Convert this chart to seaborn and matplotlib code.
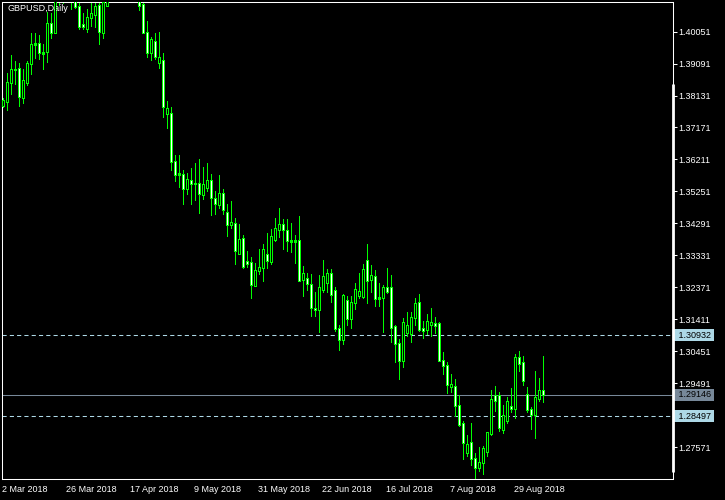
import numpy as np
import pandas as pd
import matplotlib
matplotlib.use("Agg")
import matplotlib.pyplot as plt
import seaborn as sns

# ---- data (GBPUSD daily, Mar - Sep 2018) ----
chart_title = "GBPUSD,Daily"
dates = pd.bdate_range("2018-03-02", periods=136)

opens = [1.3782, 1.3795, 1.3850, 1.3891, 1.3892, 1.3807, 1.3852, 1.3907, 1.3965, 1.3968,
         1.3941, 1.3945, 1.4028, 1.4000, 1.4140, 1.4120, 1.4140, 1.4230, 1.4170, 1.4078,
         1.4025, 1.4012, 1.4045, 1.4055, 1.4082, 1.4000, 1.4082, 1.4120, 1.4170, 1.4180,
         1.4240, 1.4240, 1.4330, 1.4300, 1.4190, 1.4085, 1.4000, 1.3940, 1.3973, 1.3912,
         1.3917, 1.3757, 1.3758, 1.3612, 1.3576, 1.3575, 1.3532, 1.3555, 1.3548, 1.3547,
         1.3515, 1.3535, 1.3557, 1.3502, 1.3483, 1.3517, 1.3460, 1.3423, 1.3428, 1.3338,
         1.3382, 1.3312, 1.3310, 1.3242, 1.3285, 1.3295, 1.3334, 1.3312, 1.3380, 1.3410,
         1.3425, 1.3407, 1.3376, 1.3376, 1.3377, 1.3258, 1.3262, 1.3244, 1.3172, 1.3169,
         1.3228, 1.3250, 1.3277, 1.3226, 1.3112, 1.3080, 1.3195, 1.3142, 1.3190, 1.3210,
         1.3208, 1.3317, 1.3258, 1.3268, 1.3205, 1.3205, 1.3235, 1.3235, 1.3117, 1.3068,
         1.3015, 1.3100, 1.3097, 1.3145, 1.3190, 1.3112, 1.3110, 1.3123, 1.3127, 1.3127,
         1.3015, 1.3002, 1.2937, 1.2938, 1.2880, 1.2828, 1.2740, 1.2768, 1.2722, 1.2693,
         1.2708, 1.2742, 1.2795, 1.2912, 1.2912, 1.2808, 1.2835, 1.2878, 1.2872, 1.3025,
         1.3010, 1.2915, 1.2870, 1.2853, 1.2902, 1.2925]
highs = [1.3803, 1.3880, 1.3932, 1.3915, 1.3910, 1.3890, 1.3915, 1.3998, 1.3998, 1.3992,
         1.3967, 1.4062, 1.4060, 1.4160, 1.4150, 1.4200, 1.4245, 1.4240, 1.4190, 1.4090,
         1.4060, 1.4070, 1.4090, 1.4092, 1.4110, 1.4105, 1.4135, 1.4185, 1.4215, 1.4260,
         1.4300, 1.4345, 1.4377, 1.4310, 1.4210, 1.4092, 1.4035, 1.3988, 1.4000, 1.4002,
         1.3938, 1.3795, 1.3778, 1.3632, 1.3632, 1.3588, 1.3578, 1.3595, 1.3608, 1.3620,
         1.3598, 1.3610, 1.3575, 1.3525, 1.3572, 1.3530, 1.3485, 1.3495, 1.3445, 1.3425,
         1.3392, 1.3345, 1.3327, 1.3308, 1.3350, 1.3365, 1.3400, 1.3410, 1.3445, 1.3475,
         1.3440, 1.3442, 1.3428, 1.3392, 1.3450, 1.3299, 1.3280, 1.3275, 1.3220, 1.3272,
         1.3317, 1.3292, 1.3292, 1.3235, 1.3122, 1.3215, 1.3210, 1.3210, 1.3250, 1.3278,
         1.3305, 1.3365, 1.3302, 1.3287, 1.3248, 1.3242, 1.3295, 1.3272, 1.3122, 1.3080,
         1.3142, 1.3160, 1.3160, 1.3203, 1.3215, 1.3135, 1.3155, 1.3172, 1.3145, 1.3130,
         1.3042, 1.3010, 1.2975, 1.2960, 1.2912, 1.2835, 1.2792, 1.2828, 1.2738, 1.2755,
         1.2758, 1.2802, 1.2928, 1.2940, 1.2922, 1.2882, 1.2905, 1.2933, 1.3035, 1.3043,
         1.3028, 1.2935, 1.2875, 1.2985, 1.2963, 1.3028]
lows = [1.3777, 1.3768, 1.3815, 1.3845, 1.3780, 1.3790, 1.3842, 1.3875, 1.3925, 1.3922,
        1.3892, 1.3912, 1.3985, 1.3998, 1.4083, 1.4088, 1.4120, 1.4070, 1.4075, 1.4012,
        1.4012, 1.4002, 1.4020, 1.4018, 1.3967, 1.3983, 1.4080, 1.4110, 1.4145, 1.4165,
        1.4220, 1.4230, 1.4270, 1.4150, 1.4068, 1.4000, 1.3928, 1.3918, 1.3922, 1.3895,
        1.3748, 1.3715, 1.3588, 1.3555, 1.3538, 1.3487, 1.3517, 1.3485, 1.3498, 1.3460,
        1.3502, 1.3525, 1.3453, 1.3455, 1.3473, 1.3455, 1.3390, 1.3413, 1.3305, 1.3335,
        1.3294, 1.3298, 1.3203, 1.3240, 1.3275, 1.3255, 1.3295, 1.3305, 1.3375, 1.3388,
        1.3352, 1.3345, 1.3342, 1.3310, 1.3255, 1.3210, 1.3227, 1.3150, 1.3148, 1.3102,
        1.3220, 1.3222, 1.3192, 1.3105, 1.3048, 1.3065, 1.3122, 1.3113, 1.3170, 1.3203,
        1.3203, 1.3188, 1.3222, 1.3180, 1.3180, 1.3102, 1.3218, 1.3070, 1.3010, 1.2960,
        1.2995, 1.3090, 1.3072, 1.3122, 1.3105, 1.3082, 1.3095, 1.3090, 1.3098, 1.3013,
        1.2975, 1.2918, 1.2922, 1.2850, 1.2818, 1.2720, 1.2730, 1.2702, 1.2663, 1.2685,
        1.2675, 1.2728, 1.2792, 1.2865, 1.2805, 1.2798, 1.2828, 1.2860, 1.2843, 1.2985,
        1.2942, 1.2860, 1.2810, 1.2783, 1.2895, 1.2892]
closes = [1.3797, 1.3850, 1.3890, 1.3889, 1.3810, 1.3857, 1.3907, 1.3965, 1.3967, 1.3940,
          1.3939, 1.4028, 1.4002, 1.4145, 1.4120, 1.4140, 1.4230, 1.4170, 1.4078, 1.4020,
          1.4018, 1.4045, 1.4058, 1.4078, 1.4005, 1.4090, 1.4120, 1.4170, 1.4180, 1.4240,
          1.4235, 1.4330, 1.4300, 1.4190, 1.4082, 1.4002, 1.3940, 1.3980, 1.3930, 1.3925,
          1.3780, 1.3772, 1.3612, 1.3575, 1.3574, 1.3532, 1.3558, 1.3547, 1.3546, 1.3517,
          1.3545, 1.3557, 1.3505, 1.3487, 1.3517, 1.3468, 1.3423, 1.3430, 1.3345, 1.3380,
          1.3297, 1.3308, 1.3243, 1.3287, 1.3295, 1.3350, 1.3315, 1.3388, 1.3412, 1.3425,
          1.3408, 1.3375, 1.3374, 1.3374, 1.3257, 1.3277, 1.3247, 1.3174, 1.3168, 1.3235,
          1.3268, 1.3277, 1.3213, 1.3112, 1.3078, 1.3212, 1.3142, 1.3190, 1.3230, 1.3223,
          1.3290, 1.3255, 1.3272, 1.3202, 1.3203, 1.3235, 1.3223, 1.3115, 1.3067, 1.3015,
          1.3130, 1.3122, 1.3145, 1.3187, 1.3108, 1.3107, 1.3132, 1.3130, 1.3120, 1.3015,
          1.3002, 1.2943, 1.2945, 1.2880, 1.2822, 1.2770, 1.2762, 1.2720, 1.2693, 1.2710,
          1.2752, 1.2798, 1.2900, 1.2895, 1.2813, 1.2850, 1.2893, 1.2872, 1.3025, 1.3007,
          1.2955, 1.2870, 1.2853, 1.2905, 1.2927, 1.29146]

x_tick_labels = ["2 Mar 2018", "26 Mar 2018", "17 Apr 2018", "9 May 2018", "31 May 2018",
                 "22 Jun 2018", "16 Jul 2018", "7 Aug 2018", "29 Aug 2018"]
y_ticks = [1.40051, 1.39091, 1.38131, 1.37171, 1.36211, 1.35251, 1.34291,
           1.33331, 1.32371, 1.31411, 1.30451, 1.29491, 1.27571]
dashed_levels = [1.30932, 1.28497]
last_price = 1.29146

df = pd.DataFrame({"date": dates, "open": opens, "high": highs,
                   "low": lows, "close": closes})
df["bar"] = np.arange(len(df))
df["up"] = df["close"] >= df["open"]
df["label"] = [f"{d.day} {d:%b %Y}" for d in df["date"]]

# ---- styling ----
sns.set_theme(style="dark", rc={"axes.facecolor": "black", "figure.facecolor": "black",
                                "axes.edgecolor": "white", "text.color": "white",
                                "xtick.color": "white", "ytick.color": "white"})
plt.rcParams["font.family"] = ["Liberation Sans", "DejaVu Sans"]

LIME = "#00ff00"
Y_LO, Y_HI = 1.26613, 1.40940
fig = plt.figure(figsize=(7.25, 5), dpi=100)
ax = fig.add_axes([2 / 725, 21 / 500, 670.5 / 725, 477 / 500])
ax.set_xlim(-0.375, -0.375 + 670.5 / 4)   # 4 px per bar
ax.set_ylim(Y_LO, Y_HI)
px = (Y_HI - Y_LO) / 477                  # price per pixel

# candles as crisp filled rectangles: 1px wick, 3px green body, 1px inner fill
body_lo = df[["open", "close"]].min(axis=1)
body_hi = df[["open", "close"]].max(axis=1)
crisp = dict(linewidth=0, antialiased=False)
wicks = ax.bar(df["bar"], df["high"] - df["low"], bottom=df["low"], width=0.25,
               color=LIME, zorder=2, **crisp)
bodies = ax.bar(df["bar"], body_hi - body_lo + px, bottom=body_lo - px / 2, width=0.75,
                color=LIME, zorder=3, **crisp)
inner_h = (body_hi - body_lo - px).clip(lower=0)
fills = ax.bar(df["bar"], inner_h, bottom=body_lo + px / 2, width=0.25,
               color=np.where(df["up"], "black", "white"), zorder=4, **crisp)
for container in (wicks, bodies, fills):
    for rect in container:
        rect.set_snap(False)

# level lines with their price tags
for lvl in dashed_levels:
    ax.axhline(lvl, color="#add8e6", lw=0.75, ls=(0, (4, 3)), zorder=1)
    ax.text(1.0045, lvl, f" {lvl:.5f} ", transform=ax.get_yaxis_transform(),
            ha="left", va="center", fontsize=6.5, color="black", clip_on=False,
            bbox=dict(boxstyle="square,pad=0.15", fc="#add8e6", ec="none"))
ax.axhline(last_price, color="#778899", lw=0.75, zorder=1)
ax.text(1.0045, last_price, f" {last_price:.5f} ", transform=ax.get_yaxis_transform(),
        ha="left", va="center", fontsize=6.5, color="black", clip_on=False,
        bbox=dict(boxstyle="square,pad=0.15", fc="#778899", ec="none"))

# ticks
ax.yaxis.tick_right()
ax.set_yticks(y_ticks)
ax.set_yticklabels([f"{v:.5f}" for v in y_ticks])
tick_pos = [df.loc[df["label"] == lab, "bar"].iloc[0] - 0.375 for lab in x_tick_labels]
ax.set_xticks(tick_pos)
ax.set_xticklabels(x_tick_labels, ha="left")
ax.tick_params(axis="both", colors="white", labelsize=6.5, length=3, width=0.75,
               pad=1.5, direction="out")
ax.grid(False)
for s in ax.spines.values():
    s.set_color("white")
    s.set_linewidth(0.75)

# thick white strip on the right border
ax.plot([1.0, 1.0], [0.0147, 0.828], transform=ax.transAxes, color="white",
        lw=2.0, solid_capstyle="butt", clip_on=False, zorder=5)

ax.text(5 / 670.5, 1 - 2 / 477, chart_title, transform=ax.transAxes,
        ha="left", va="top", color="white", fontsize=6.5)

fig.savefig("out.png", dpi=100, facecolor="black")
